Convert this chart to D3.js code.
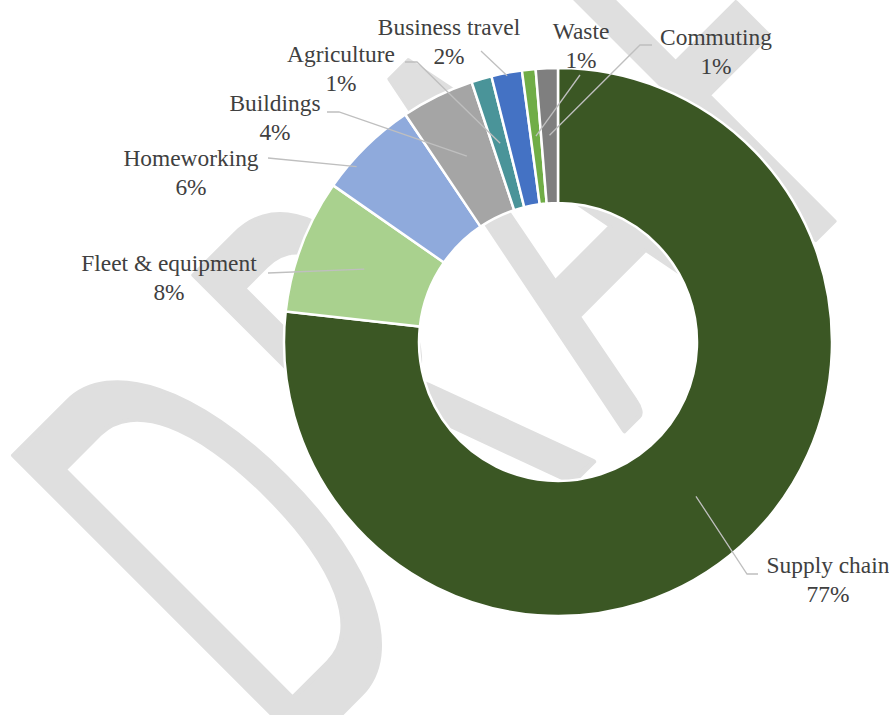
<!DOCTYPE html>
<html>
<head>
<meta charset="utf-8">
<script src="https://cdn.jsdelivr.net/npm/d3@7"></script>
<style>
  html, body { margin: 0; padding: 0; background: #ffffff; }
  svg { display: block; }
  .lbl { font-family: "Liberation Serif", "Times New Roman", Times, serif; }
  .wm  { font-family: Lato, "Open Sans", sans-serif; }
</style>
</head>
<body>
<svg id="chart" width="889" height="715"></svg>
<script>
// Emission sources and their share of the total footprint (%)
const categories = ["Supply chain", "Fleet & equipment", "Homeworking", "Buildings",
                    "Agriculture", "Business travel", "Waste", "Commuting"];
const shares = [76.7, 7.9, 5.9, 4.3, 1.2, 1.8, 0.8, 1.3];
const sliceColors = ["#3b5724", "#a9d18e", "#8faadc", "#a5a5a5",
                     "#4a9499", "#4472c4", "#70ad47", "#7f7f7f"];
const watermarkLetters = ["D", "R", "A", "F", "T"];

// Label placement: text centre, name baseline, leader start/elbow, leader anchor on the ring
const labelLayout = {
  "Supply chain":      { x: 828, y: 573, pts: [[758, 574], [747, 574]], r: 207, t: 0.5 },
  "Fleet & equipment": { x: 169, y: 271, pts: [[268, 273]],             r: 207, t: 0.5 },
  "Homeworking":       { x: 191, y: 166, pts: [[268, 158]],             r: 267, t: 0.29 },
  "Buildings":         { x: 275, y: 111, pts: [[327, 112], [339, 112]], r: 207, t: 0.5 },
  "Agriculture":       { x: 341, y: 62,  pts: [[405, 62], [417, 62]],   r: 207, t: 0.5 },
  "Business travel":   { x: 449, y: 35,  pts: [[481, 51]],              r: 271, t: 0.5 },
  "Waste":             { x: 581, y: 39,  pts: [[580, 75]],              r: 207, t: 0.5 },
  "Commuting":         { x: 716, y: 45,  pts: [[652, 45], [640, 45]],   r: 207, t: 0.5 }
};

const svg = d3.select("#chart");
const cx = 558, cy = 342, outerR = 274, innerR = 139;

// ---- DRAFT watermark (behind the chart) ----
const wm = svg.append("g")
  .attr("transform", "translate(527.5,527.5) rotate(-45)");
const squeeze = 0.5;
const letterX = [-340, -85, 135, 380, 560];
wm.append("text")
  .attr("class", "wm")
  .attr("transform", `scale(${squeeze},1)`)
  .attr("font-size", 578)
  .attr("fill", "#dfdfdf")
  .attr("stroke", "#dfdfdf")
  .attr("stroke-width", 5)
  .attr("stroke-linejoin", "round")
  .attr("vector-effect", "non-scaling-stroke")
  .selectAll("tspan")
  .data(watermarkLetters)
  .join("tspan")
  .attr("x", (d, i) => letterX[i] / squeeze)
  .attr("y", 0)
  .text(d => d);

// ---- Donut ----
const pie = d3.pie().sort(null).value(d => d)
  .startAngle(0).endAngle(2 * Math.PI);
const arcs = pie(shares);
const arc = d3.arc().innerRadius(innerR).outerRadius(outerR);

const g = svg.append("g").attr("transform", `translate(${cx},${cy})`);
g.selectAll("path.slice")
  .data(arcs)
  .join("path")
  .attr("class", "slice")
  .attr("d", arc)
  .attr("fill", (d, i) => sliceColors[i])
  .attr("stroke", "#ffffff")
  .attr("stroke-width", 2.5)
  .attr("stroke-linejoin", "miter");

// ---- Leader lines ----
const total = d3.sum(shares);
const leaders = svg.append("g");
arcs.forEach((a, i) => {
  const L = labelLayout[categories[i]];
  const ang = a.startAngle + (a.endAngle - a.startAngle) * L.t;
  const end = [cx + L.r * Math.sin(ang), cy - L.r * Math.cos(ang)];
  leaders.append("path")
    .attr("d", d3.line()([...L.pts, end]))
    .attr("fill", "none")
    .attr("stroke", "#bfbfbf")
    .attr("stroke-width", 1.3);
});

// ---- Labels ----
const labels = svg.append("g")
  .attr("class", "lbl")
  .attr("font-size", 23.4)
  .attr("fill", "#404040")
  .attr("text-anchor", "middle");
arcs.forEach((a, i) => {
  const name = categories[i];
  const L = labelLayout[name];
  const pct = Math.round(shares[i] / total * 100) + "%";
  const t = labels.append("text").attr("x", L.x).attr("y", L.y);
  t.append("tspan").attr("x", L.x).attr("y", L.y).text(name);
  t.append("tspan").attr("x", L.x).attr("y", L.y + 28.5).text(pct);
});
</script>
</body>
</html>
